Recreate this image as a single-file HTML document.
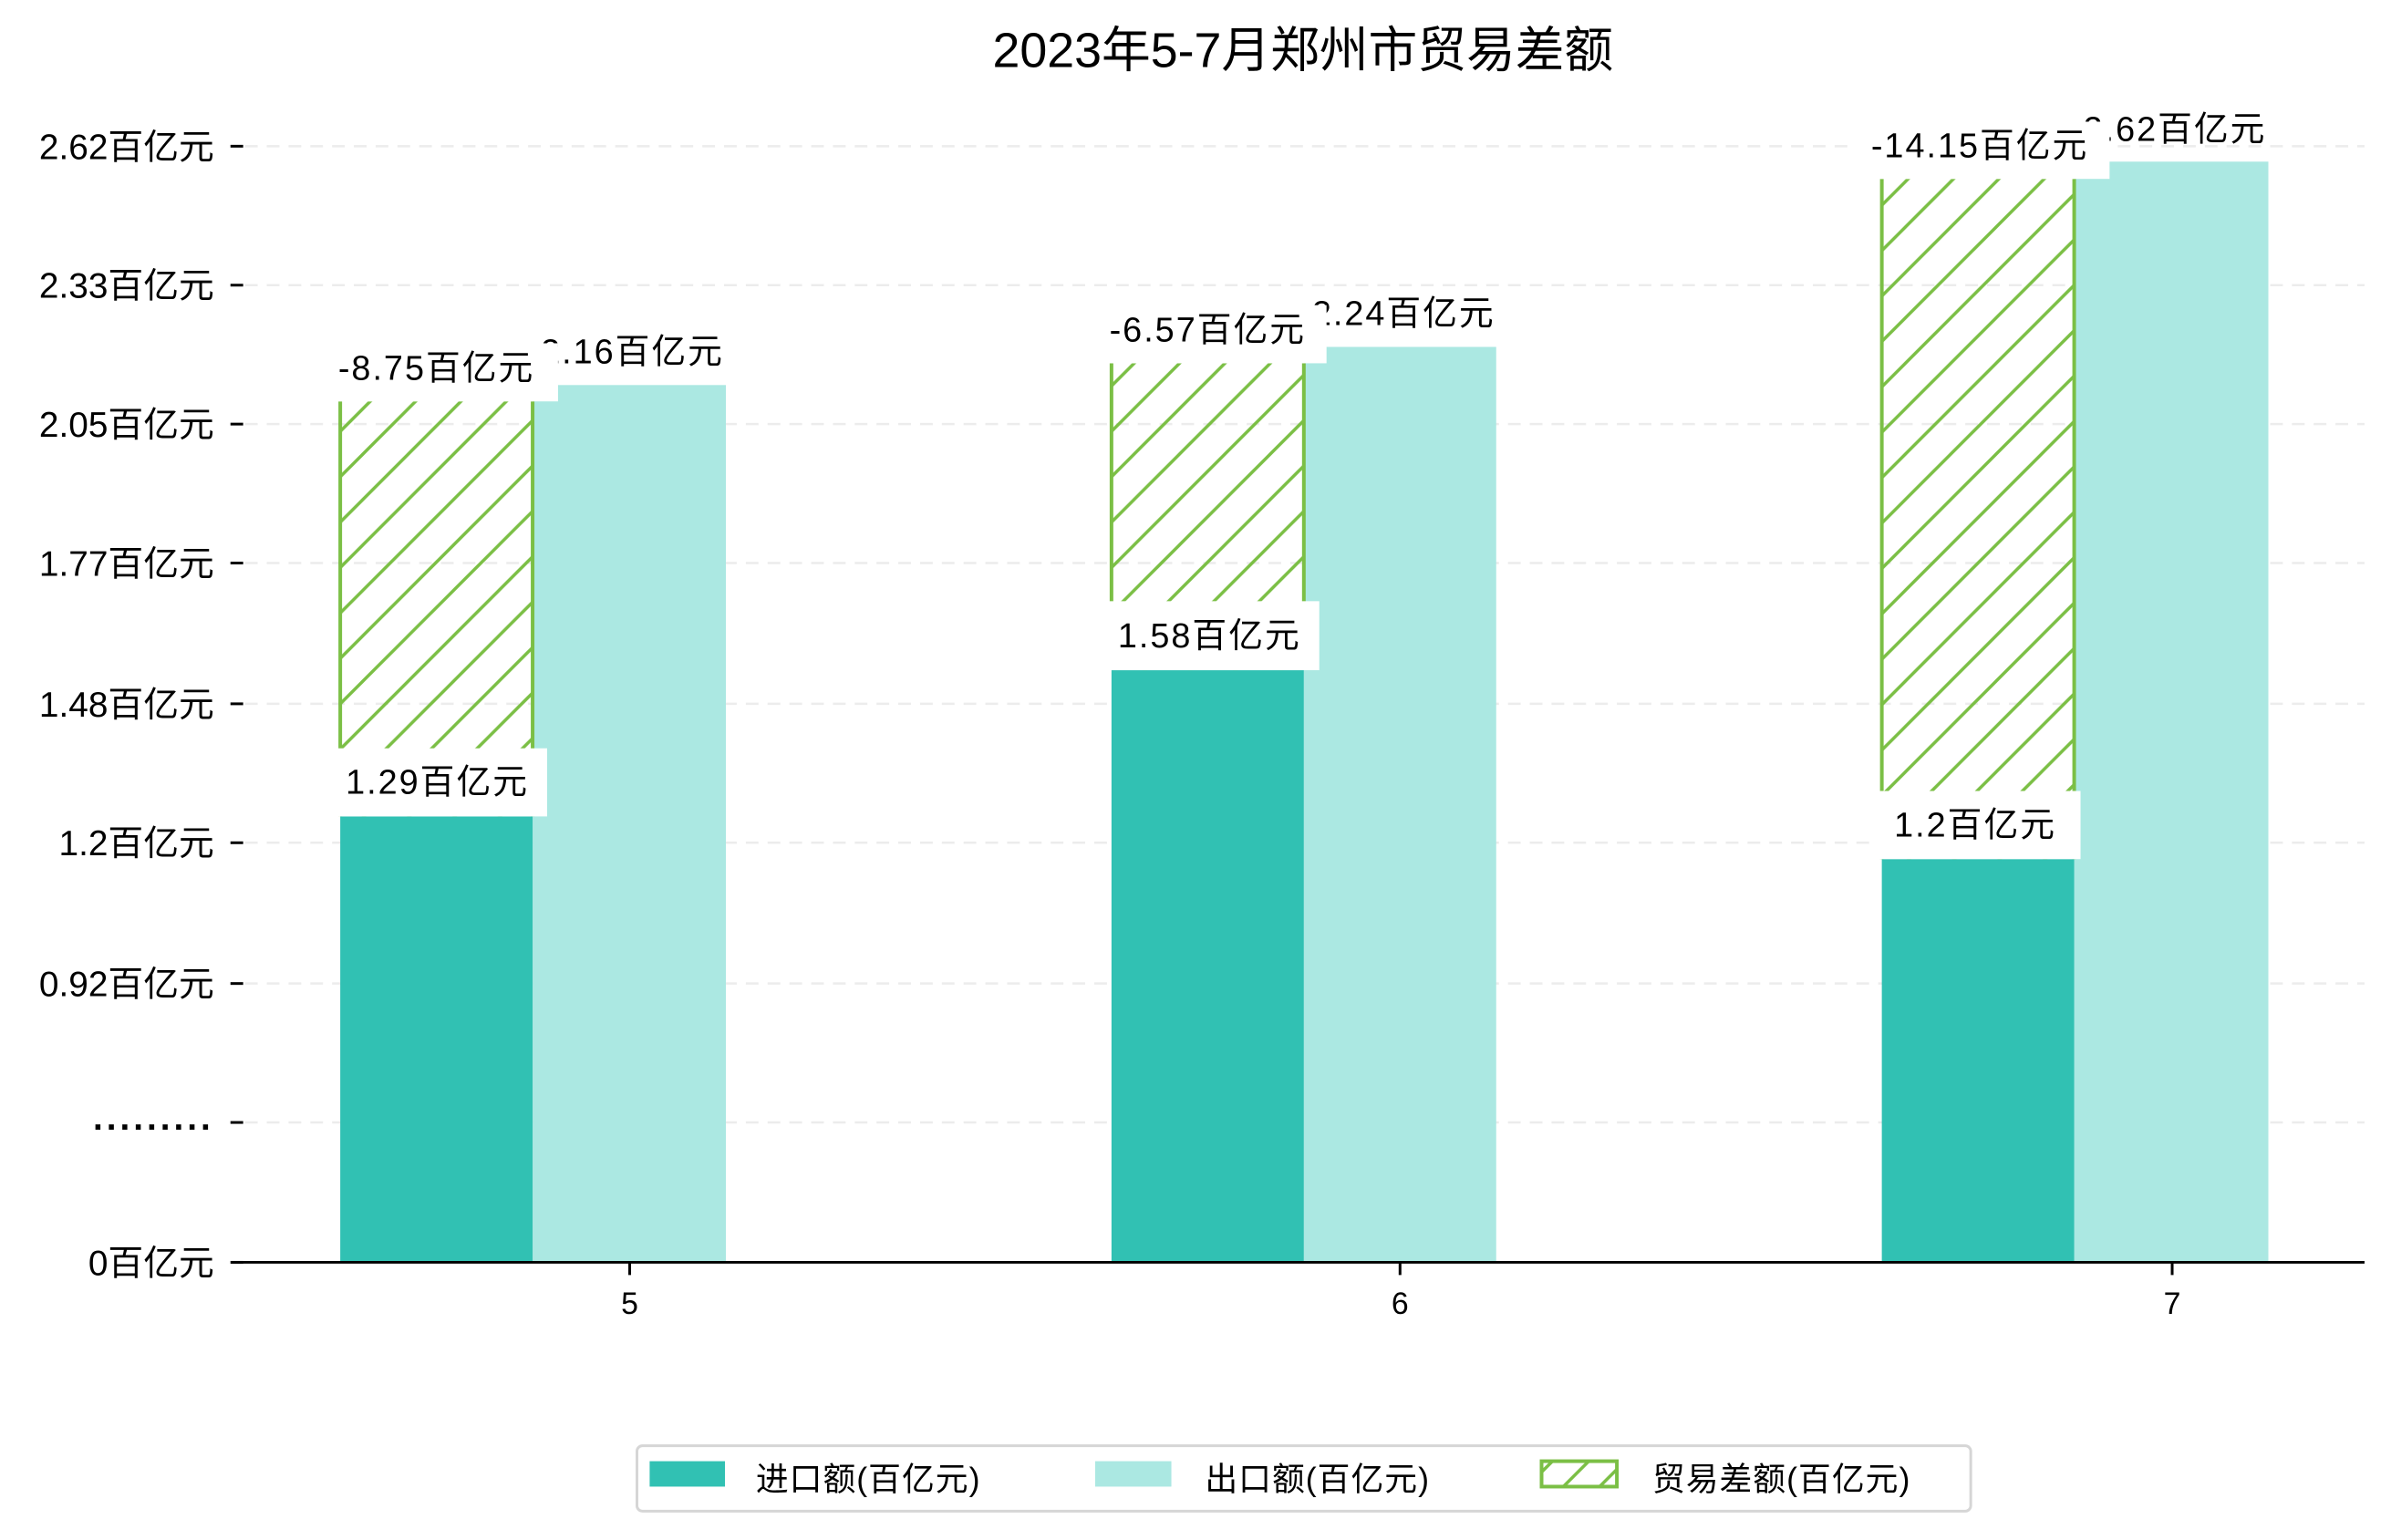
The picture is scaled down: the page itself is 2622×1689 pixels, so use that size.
<!DOCTYPE html>
<html><head><meta charset="utf-8"><style>
html,body{margin:0;padding:0;background:#fff;}
svg{display:block;}
text{font-family:"Liberation Sans","Noto Sans CJK SC",sans-serif;fill:#000;}
</style></head><body>
<svg width="2622" height="1689" viewBox="0 0 2622 1689" xmlns="http://www.w3.org/2000/svg">
<defs>
<pattern id="h" patternUnits="userSpaceOnUse" width="50" height="50">
<line x1="-5" y1="55" x2="55" y2="-5" stroke="#7bbf45" stroke-width="3.5"/>
<line x1="-30" y1="30" x2="30" y2="-30" stroke="#7bbf45" stroke-width="3.5"/>
<line x1="20" y1="80" x2="80" y2="20" stroke="#7bbf45" stroke-width="3.5"/>
</pattern>
<pattern id="hl" patternUnits="userSpaceOnUse" width="40" height="40">
<line x1="-5" y1="45" x2="45" y2="-5" stroke="#7bbf45" stroke-width="3.5"/>
</pattern>
</defs>
<g transform="scale(0.995,0.996)">
<text x="1436" y="74" font-size="54" text-anchor="middle">2023年5-7月郑州市贸易差额</text>
<g stroke="#ececec" stroke-width="2.5" stroke-dasharray="14,10">
<line x1="270" y1="161" x2="2606" y2="161"/>
<line x1="270" y1="314" x2="2606" y2="314"/>
<line x1="270" y1="467" x2="2606" y2="467"/>
<line x1="270" y1="620" x2="2606" y2="620"/>
<line x1="270" y1="775" x2="2606" y2="775"/>
<line x1="270" y1="928" x2="2606" y2="928"/>
<line x1="270" y1="1083" x2="2606" y2="1083"/>
<line x1="270" y1="1236" x2="2606" y2="1236"/>
</g>
<g stroke="#000" stroke-width="3">
<line x1="254" y1="161" x2="268" y2="161"/>
<line x1="254" y1="314" x2="268" y2="314"/>
<line x1="254" y1="467" x2="268" y2="467"/>
<line x1="254" y1="620" x2="268" y2="620"/>
<line x1="254" y1="775" x2="268" y2="775"/>
<line x1="254" y1="928" x2="268" y2="928"/>
<line x1="254" y1="1083" x2="268" y2="1083"/>
<line x1="254" y1="1236" x2="268" y2="1236"/>
<line x1="254" y1="1390" x2="268" y2="1390"/>
</g>
<g font-size="39" text-anchor="end">
<text x="236" y="175">2.62百亿元</text>
<text x="236" y="328">2.33百亿元</text>
<text x="236" y="481">2.05百亿元</text>
<text x="236" y="634">1.77百亿元</text>
<text x="236" y="789">1.48百亿元</text>
<text x="236" y="942">1.2百亿元</text>
<text x="236" y="1097">0.92百亿元</text>
<text x="236" y="1244" font-weight="bold" letter-spacing="4">.........</text>
<text x="236" y="1404">0百亿元</text>
</g>
<rect x="587" y="424" width="213" height="966" fill="#abe8e2"/>
<rect x="1437" y="382" width="212" height="1008" fill="#abe8e2"/>
<rect x="2286" y="178" width="214" height="1212" fill="#abe8e2"/>
<rect x="375" y="899" width="212" height="491" fill="#31c1b3"/>
<rect x="1225" y="738" width="212" height="652" fill="#31c1b3"/>
<rect x="2074" y="946" width="212" height="444" fill="#31c1b3"/>
<rect x="375" y="442" width="212" height="457" fill="url(#h)"/>
<rect x="1225" y="400" width="212" height="338" fill="url(#h)"/>
<rect x="2074" y="197" width="212" height="749" fill="url(#h)"/>
<g stroke="#7bbf45" stroke-width="4">
<line x1="375" y1="442" x2="375" y2="899"/><line x1="587" y1="442" x2="587" y2="899"/>
<line x1="1225" y1="400" x2="1225" y2="738"/><line x1="1437" y1="400" x2="1437" y2="738"/>
<line x1="2074" y1="197" x2="2074" y2="946"/><line x1="2286" y1="197" x2="2286" y2="946"/>
</g>
<g font-size="38" text-anchor="middle" letter-spacing="2">
<text x="697" y="400">2.16百亿元</text>
<text x="1547" y="358">2.24百亿元</text>
<text x="2397" y="155">2.62百亿元</text>
</g>
<g fill="#fff">
<rect x="351" y="378" width="264" height="64"/>
<rect x="1202" y="336" width="260" height="64"/>
<rect x="2042" y="134" width="283" height="63"/>
<rect x="361" y="824" width="242" height="75"/>
<rect x="1212" y="662" width="242" height="76"/>
<rect x="2061" y="871" width="232" height="75"/>
</g>
<g font-size="38" text-anchor="middle" letter-spacing="2">
<text x="481" y="418">-8.75百亿元</text>
<text x="1331" y="376">-6.57百亿元</text>
<text x="2182" y="173">-14.15百亿元</text>
<text x="482" y="874">1.29百亿元</text>
<text x="1333" y="713">1.58百亿元</text>
<text x="2177" y="921">1.2百亿元</text>
</g>
<line x1="255" y1="1390" x2="2606" y2="1390" stroke="#000" stroke-width="3"/>
<g stroke="#000" stroke-width="3">
<line x1="694" y1="1390" x2="694" y2="1404"/>
<line x1="1543" y1="1390" x2="1543" y2="1404"/>
<line x1="2394" y1="1390" x2="2394" y2="1404"/>
</g>
<g font-size="34" text-anchor="middle">
<text x="694" y="1447">5</text>
<text x="1543" y="1447">6</text>
<text x="2394" y="1447">7</text>
</g>
<rect x="702" y="1592" width="1470" height="72" rx="6" fill="#fff" stroke="#d6d6d6" stroke-width="3"/>
<rect x="716" y="1609" width="83" height="28" fill="#31c1b3"/>
<rect x="1207" y="1609" width="84" height="28" fill="#abe8e2"/>
<rect x="1699" y="1609" width="83" height="28" fill="url(#hl)" stroke="#7bbf45" stroke-width="4"/>
<g font-size="36" letter-spacing="1">
<text x="833" y="1641">进口额(百亿元)</text>
<text x="1328" y="1641">出口额(百亿元)</text>
<text x="1821" y="1641">贸易差额(百亿元)</text>
</g>
</g>
</svg>
</body></html>
